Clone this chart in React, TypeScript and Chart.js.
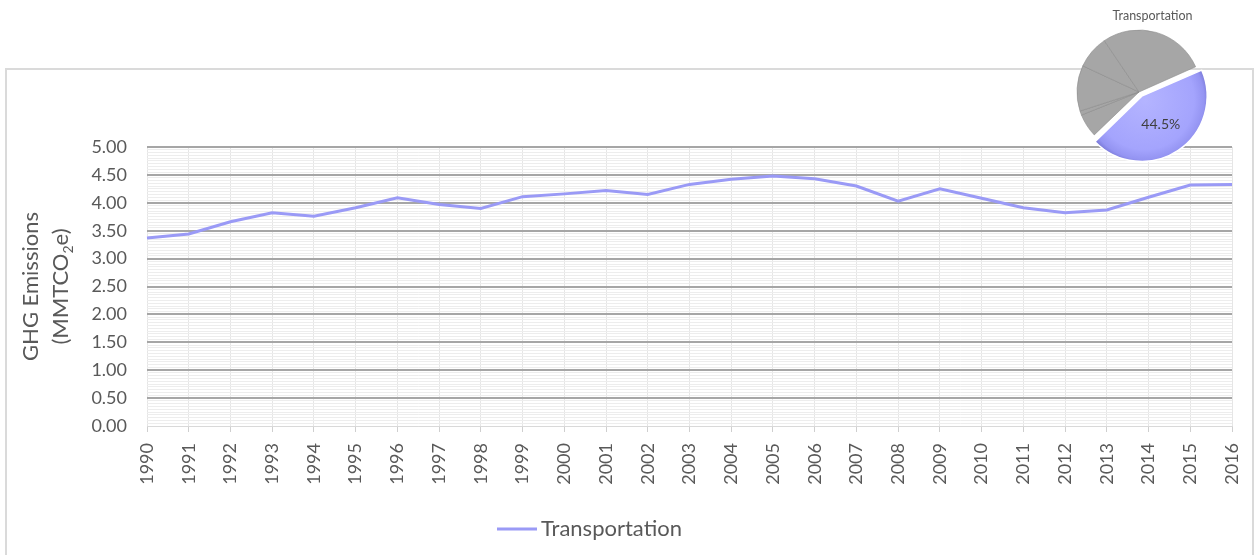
import React, { useEffect, useRef } from 'react';
import { Chart, registerables } from 'chart.js';

Chart.register(...registerables);

// ---------- data ----------
const years = [
  '1990', '1991', '1992', '1993', '1994', '1995', '1996', '1997', '1998', '1999',
  '2000', '2001', '2002', '2003', '2004', '2005', '2006', '2007', '2008', '2009',
  '2010', '2011', '2012', '2013', '2014', '2015', '2016',
];
const transportation = [
  3.37, 3.44, 3.66, 3.82, 3.76, 3.91, 4.09, 3.97, 3.90, 4.11,
  4.16, 4.22, 4.15, 4.33, 4.42, 4.48, 4.43, 4.30, 4.03, 4.25,
  4.08, 3.91, 3.82, 3.87, 4.10, 4.32, 4.33,
];
const seriesLabel = 'Transportation';
const yAxisTitle = ['GHG Emissions', '(MMTCO₂e)'];
const yMin = 0;
const yMax = 5;
const yMajorStep = 0.5;
const yMinorStep = 0.05;

const pieTitle = 'Transportation';
const pieLabels = ['Transportation', 'Other sector A', 'Other sector B', 'Other sector C', 'Other sector D', 'Other sector E'];
const pieShares = [44.5, 6.1, 1.1, 11.9, 8.6, 27.8];

const FONT = 'Lato, "Open Sans", sans-serif';
const TEXT = '#595959';

const isMajor = (v: number) => Math.round(v * 100) % Math.round(yMajorStep * 100) === 0;

export default function App() {
  const mainRef = useRef<HTMLCanvasElement | null>(null);
  const pieRef = useRef<HTMLCanvasElement | null>(null);

  useEffect(() => {
    if (!mainRef.current || !pieRef.current) return;

    const yTitlePlugin = {
      id: 'yTitle',
      afterDraw(chart: any) {
        const { ctx, chartArea } = chart;
        const cy = (chartArea.top + chartArea.bottom) / 2;
        const big = `22px ${FONT}`;
        const small = `14px ${FONT}`;
        ctx.save();
        ctx.fillStyle = TEXT;
        ctx.textBaseline = 'middle';
        // line 1
        ctx.save();
        ctx.translate(31, cy);
        ctx.rotate(-Math.PI / 2);
        ctx.font = big;
        ctx.textAlign = 'center';
        ctx.fillText(yAxisTitle[0], 0, 0);
        ctx.restore();
        // line 2 with subscript
        const parts = yAxisTitle[1].split('₂');
        ctx.save();
        ctx.translate(61, cy);
        ctx.rotate(-Math.PI / 2);
        ctx.textAlign = 'left';
        ctx.font = big;
        const w0 = ctx.measureText(parts[0]).width;
        const w2 = ctx.measureText(parts[1] || '').width;
        ctx.font = small;
        const w1 = ctx.measureText('2').width;
        let x = -(w0 + w1 + w2) / 2;
        ctx.font = big;
        ctx.fillText(parts[0], x, 0);
        x += w0;
        ctx.font = small;
        ctx.fillText('2', x, 7);
        x += w1;
        ctx.font = big;
        ctx.fillText(parts[1] || '', x, 0);
        ctx.restore();
        ctx.restore();
      },
    };

    const legendPlugin = {
      id: 'customLegend',
      afterDraw(chart: any) {
        const { ctx } = chart;
        const ds = chart.data.datasets[0];
        ctx.save();
        ctx.strokeStyle = ds.borderColor;
        ctx.lineWidth = 3;
        ctx.beginPath();
        ctx.moveTo(497, 529);
        ctx.lineTo(537, 529);
        ctx.stroke();
        ctx.fillStyle = TEXT;
        ctx.font = `22px ${FONT}`;
        ctx.textAlign = 'left';
        ctx.textBaseline = 'middle';
        ctx.fillText(ds.label, 541, 529);
        ctx.restore();
      },
    };

    const main = new Chart(mainRef.current, {
      type: 'line',
      data: {
        labels: years,
        datasets: [
          {
            label: seriesLabel,
            data: transportation,
            borderColor: '#9a9af6',
            borderWidth: 3,
            pointRadius: 0,
            tension: 0,
            fill: false,
          },
        ],
      },
      options: {
        animation: false,
        responsive: false,
        maintainAspectRatio: false,
        layout: { padding: { top: 147, right: 23, left: 0, bottom: 0 } },
        plugins: { legend: { display: false }, tooltip: { enabled: false }, title: { display: false } },
        scales: {
          x: {
            type: 'category',
            offset: false,
            afterFit: (s: any) => {
              s.height = 129;
              s.paddingLeft = 0;
              s.paddingRight = 0;
            },
            grid: {
              color: '#e6e6e6',
              lineWidth: 1,
              tickLength: 6,
              tickColor: '#cfcfcf',
              offset: false,
            },
            border: { color: '#d9d9d9', width: 1 },
            ticks: {
              autoSkip: false,
              maxRotation: 90,
              minRotation: 90,
              padding: 11,
              color: TEXT,
              font: { family: FONT, size: 18 },
            },
          },
          y: {
            min: yMin,
            max: yMax,
            afterFit: (s: any) => { s.width = 147; },
            border: { display: false },
            grid: {
              drawTicks: false,
              color: (c: any) => {
                const v = c.tick.value;
                if (Math.abs(v) < 1e-9) return '#d9d9d9';
                return isMajor(v) ? '#a6a6a6' : '#ededed';
              },
              lineWidth: (c: any) => (isMajor(c.tick.value) && Math.abs(c.tick.value) > 1e-9 ? 2 : 1),
            },
            ticks: {
              stepSize: yMinorStep,
              autoSkip: false,
              padding: 20,
              color: TEXT,
              font: { family: FONT, size: 18 },
              callback: (v: any) => (isMajor(Number(v)) ? Number(v).toFixed(2) : ''),
            },
          },
        },
      },
      plugins: [yTitlePlugin, legendPlugin],
    } as any);

    const pieTextPlugin = {
      id: 'pieText',
      afterDraw(chart: any) {
        const { ctx } = chart;
        ctx.save();
        ctx.fillStyle = TEXT;
        ctx.font = `12.5px ${FONT}`;
        ctx.textAlign = 'center';
        ctx.textBaseline = 'middle';
        ctx.fillText(pieTitle, 92.5, 16);
        const arc = chart.getDatasetMeta(0).data[0];
        if (arc) {
          const { x, y, startAngle, endAngle, outerRadius } = arc.getProps(['x', 'y', 'startAngle', 'endAngle', 'outerRadius'], true);
          const mid = (startAngle + endAngle) / 2;
          const d = outerRadius * 0.55 + 5;
          ctx.fillStyle = '#3f3f3f';
          ctx.font = `14px ${FONT}`;
          ctx.fillText(`${pieShares[0].toFixed(1)}%`, x + Math.cos(mid) * d, y + Math.sin(mid) * d);
        }
        ctx.restore();
      },
    };

    const pie = new Chart(pieRef.current, {
      type: 'pie',
      data: {
        labels: pieLabels,
        datasets: [
          {
            data: pieShares,
            backgroundColor: (c: any) => {
              if (c.dataIndex !== 0) return '#a6a6a6';
              const { ctx, chartArea } = c.chart;
              if (!chartArea) return '#a3a3fb';
              const cx = (chartArea.left + chartArea.right) / 2 + 3;
              const cy = (chartArea.top + chartArea.bottom) / 2 + 4;
              const g = ctx.createRadialGradient(cx, cy, 0, cx, cy, 66);
              g.addColorStop(0, '#b4b4ff');
              g.addColorStop(0.75, '#a4a4fd');
              g.addColorStop(0.9, '#9494f2');
              g.addColorStop(1, '#7070cf');
              return g;
            },
            borderColor: (c: any) => (c.dataIndex === 0 ? '#ffffff' : '#8c8c8c'),
            borderWidth: (c: any) => (c.dataIndex === 0 ? 1.5 : 0.6),
            offset: (c: any) => (c.dataIndex === 0 ? 20 : 0),
          },
        ],
      },
      options: {
        animation: false,
        responsive: false,
        maintainAspectRatio: false,
        rotation: 66,
        radius: 62,
        layout: { padding: { top: 14, right: 37, left: 0, bottom: 0 } },
        plugins: { legend: { display: false }, tooltip: { enabled: false }, title: { display: false } },
      },
      plugins: [pieTextPlugin],
    } as any);

    return () => {
      main.destroy();
      pie.destroy();
    };
  }, []);

  return (
    <div style={{ position: 'absolute', left: 0, top: 0, width: 1255, height: 555, overflow: 'hidden', background: '#ffffff' }}>
      <div
        style={{
          position: 'absolute',
          left: 5,
          top: 68,
          width: 1249,
          height: 540,
          border: '2px solid #dadada',
          boxSizing: 'border-box',
        }}
      />
      <canvas ref={mainRef} width={1255} height={555} style={{ position: 'absolute', left: 0, top: 0, width: 1255, height: 555 }} />
      <canvas ref={pieRef} width={195} height={170} style={{ position: 'absolute', left: 1060, top: 0, width: 195, height: 170 }} />
    </div>
  );
}
